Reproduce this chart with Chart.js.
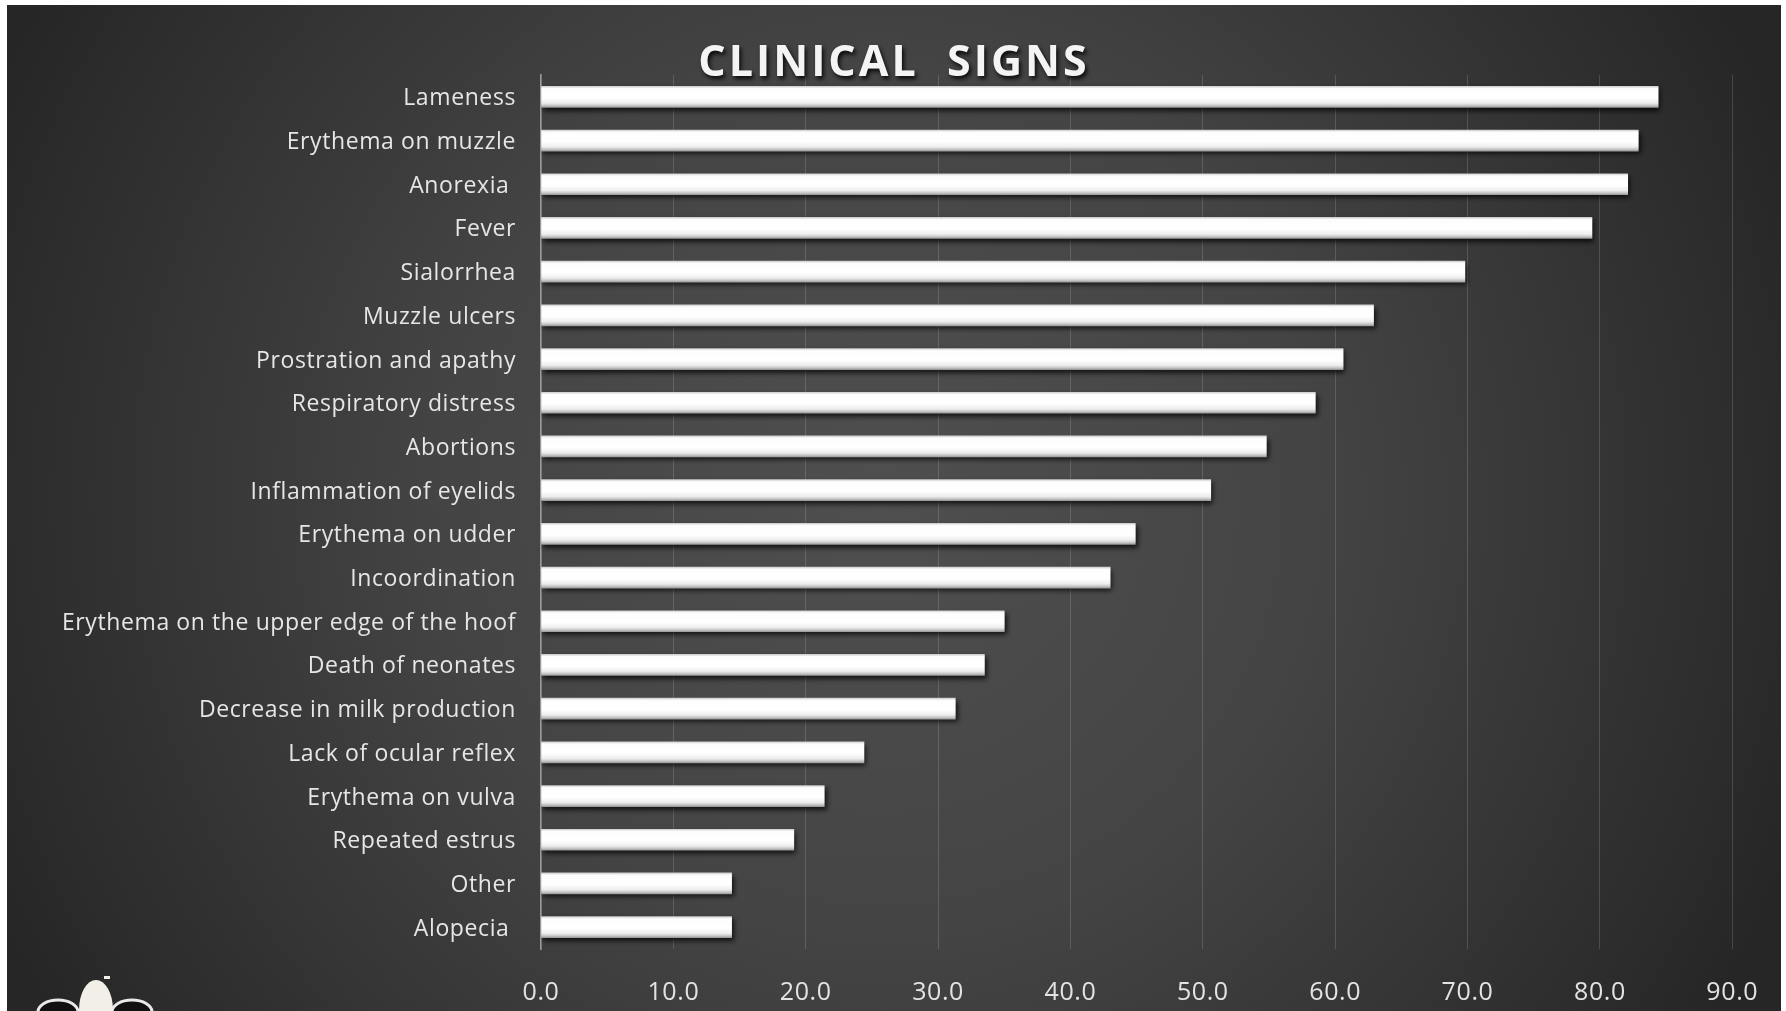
<!DOCTYPE html>
<html>
<head>
<meta charset="utf-8">
<title>Clinical signs</title>
<script src="https://cdn.jsdelivr.net/npm/chart.js@4"></script>
<style>
  html, body { margin: 0; padding: 0; background: #ffffff; }
  #wrap { width: 1786px; height: 1011px; }
</style>
</head>
<body>
<div id="wrap"><canvas id="signsChart" width="1786" height="1011"></canvas></div>
<script>
// Chart data
const categories = [
  'Lameness', 'Erythema on muzzle', 'Anorexia ', 'Fever', 'Sialorrhea',
  'Muzzle ulcers', 'Prostration and apathy', 'Respiratory distress', 'Abortions',
  'Inflammation of eyelids', 'Erythema on udder', 'Incoordination',
  'Erythema on the upper edge of the hoof', 'Death of neonates',
  'Decrease in milk production', 'Lack of ocular reflex', 'Erythema on vulva',
  'Repeated estrus', 'Other', 'Alopecia '
];
const percentages = [84.4, 82.9, 82.1, 79.4, 69.8, 62.9, 60.6, 58.5, 54.8, 50.6,
                     44.9, 43.0, 35.0, 33.5, 31.3, 24.4, 21.4, 19.1, 14.4, 14.4];
const xTickValues = [0, 10, 20, 30, 40, 50, 60, 70, 80, 90];
const chartTitle = 'CLINICAL  SIGNS';

const BAR_H = 21;

// Slide background, white frame and the little cow in the corner
const slideBackground = {
  id: 'slideBackground',
  beforeDraw(chart) {
    const c = chart.ctx;
    const w = chart.width, h = chart.height;
    c.save();
    c.fillStyle = '#ffffff';
    c.fillRect(0, 0, w, h);
    const g = c.createRadialGradient(880, 500, 0, 880, 500, 980);
    g.addColorStop(0, '#4f4f4f');
    g.addColorStop(0.45, '#444444');
    g.addColorStop(1, '#262626');
    c.fillStyle = g;
    c.fillRect(7, 5, 1774, h - 5);

    // cow head (cropped at the bottom edge)
    c.lineWidth = 3;
    c.strokeStyle = '#e8e8e8';
    c.fillStyle = '#111111';
    c.beginPath(); c.ellipse(58, 1012, 20, 12, 0, 0, Math.PI * 2); c.fill(); c.stroke();
    c.beginPath(); c.ellipse(132, 1012, 20, 12, 0, 0, Math.PI * 2); c.fill(); c.stroke();
    c.fillStyle = '#f1efe8';
    c.beginPath(); c.ellipse(96, 1010, 17, 30, 0, 0, Math.PI * 2); c.fill();
    c.fillRect(104, 976, 6, 3);
    c.restore();
    c.letterSpacing = '0.6px';
  }
};

// Drop shadow under the bars
const barShadow = {
  id: 'barShadow',
  beforeDatasetsDraw(chart) {
    const c = chart.ctx;
    c.save();
    c.shadowColor = 'rgba(0,0,0,0.75)';
    c.shadowBlur = 5;
    c.shadowOffsetX = 2;
    c.shadowOffsetY = 3;
  },
  afterDatasetsDraw(chart) {
    chart.ctx.restore();
  }
};

// Title with a soft shadow, sits over the top of the plot
const slideTitle = {
  id: 'slideTitle',
  afterDraw(chart) {
    const c = chart.ctx;
    c.save();
    c.font = 'bold 43px "Open Sans"';
    c.letterSpacing = '3px';
    c.textAlign = 'center';
    c.textBaseline = 'alphabetic';
    c.shadowColor = 'rgba(0,0,0,0.85)';
    c.shadowBlur = 4;
    c.shadowOffsetX = 2;
    c.shadowOffsetY = 3;
    c.fillStyle = '#f4f4f4';
    c.fillText(chartTitle, 894, 76);
    c.restore();
    c.letterSpacing = '0px';
  }
};

function barFill(context) {
  const chart = context.chart;
  const yScale = chart.scales.y;
  if (!chart.chartArea || !yScale) return '#ffffff';
  const yc = yScale.getPixelForValue(context.dataIndex);
  const g = chart.ctx.createLinearGradient(0, yc - BAR_H / 2, 0, yc + BAR_H / 2);
  g.addColorStop(0, '#cfcfcf');
  g.addColorStop(0.1, '#fdfdfd');
  g.addColorStop(0.55, '#ffffff');
  g.addColorStop(0.8, '#ededed');
  g.addColorStop(0.92, '#c4c4c4');
  g.addColorStop(1, '#9a9a9a');
  return g;
}

const ctx = document.getElementById('signsChart').getContext('2d');
const signsChart = new Chart(ctx, {
  type: 'bar',
  data: {
    labels: categories,
    datasets: [{
      data: percentages,
      backgroundColor: barFill,
      borderWidth: 0,
      barThickness: BAR_H
    }]
  },
  options: {
    indexAxis: 'y',
    responsive: false,
    animation: false,
    devicePixelRatio: 1,
    layout: { padding: { top: 75, right: 45, left: 0, bottom: 0 } },
    plugins: {
      legend: { display: false },
      title: { display: false },
      tooltip: { enabled: false }
    },
    scales: {
      x: {
        min: 0,
        max: 90,
        afterBuildTicks(scale) {
          scale.ticks = xTickValues.map(v => ({ value: v }));
        },
        afterFit(scale) { scale.height = 62; },
        grid: { color: 'rgba(255,255,255,0.15)', lineWidth: 1, drawTicks: false },
        border: { display: false },
        ticks: {
          color: '#e3e3e3',
          font: { family: 'Open Sans', size: 25 },
          padding: 29,
          maxRotation: 0,
          callback: v => Number(v).toFixed(1)
        }
      },
      y: {
        afterFit(scale) { scale.width = 541; },
        grid: { display: false, drawTicks: false },
        border: { display: true, color: '#9a9a9a', width: 1.5 },
        ticks: {
          color: '#e6e6e6',
          font: { family: 'Open Sans', size: 23, lineHeight: 1.1 },
          padding: 25,
          labelOffset: 2,
          autoSkip: false
        }
      }
    }
  },
  plugins: [slideBackground, barShadow, slideTitle]
});
</script>
</body>
</html>
